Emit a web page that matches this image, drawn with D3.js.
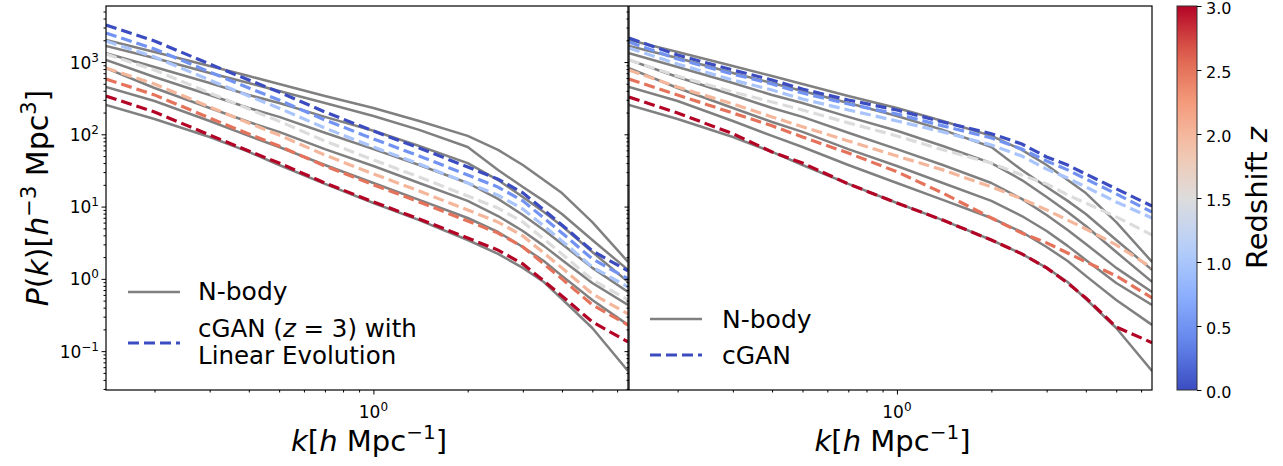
<!DOCTYPE html>
<html><head><meta charset="utf-8">
<script src="https://cdn.jsdelivr.net/npm/d3@7"></script>
<style>body{margin:0;background:#fff} text{font-family:"DejaVu Sans",sans-serif;fill:#000}</style>
</head><body><svg id="c" width="1283" height="466"></svg>
<script>
// ---- data ----
const kValues = [0.14,0.2,0.3,0.4,0.5,0.7,1.0,1.4,2.0,2.5,3.0,3.5,4.0,5.0,6.5];
const redshifts = [0,0.5,1,1.5,2,2.5,3];
// N-body P(k) per redshift
const nbodyZ00 = [2020,1380,880,640,496,339,231,153,95,61,37.6,23.3,15.4,6.1,1.72];
const nbodyZ05 = [1670,1140,704,512,397,271,179,115,66.7,32,18.7,12,7.9,3.45,1.33];
const nbodyZ10 = [1330,853,512,350,271,174,112,69,40,23.3,13.6,8.4,5.4,2.35,0.91];
const nbodyZ15 = [1070,620,350,231,174,105,62.5,37.6,21.2,12.8,7.65,4.75,3.04,1.42,0.66];
const nbodyZ20 = [826,437,231,148,108,62.5,36.4,21.2,12,7.4,4.6,2.86,1.83,0.877,0.436];
const nbodyZ25 = [451,289,153,95,66.7,37.6,21.2,12.4,6.95,4.45,2.76,1.77,1.1,0.51,0.231];
const nbodyZ30 = [254,163,91.8,57,37.6,20.6,11.2,6.5,3.45,2.22,1.42,0.906,0.527,0.209,0.0532];
// cGAN (z=3) with linear evolution (left panel)
const linZ00 = [3254,1958,939,564,384,204,111,64.7,35.3,24,15.5,8.98,5.57,2.44,1.29];
const linZ05 = [2522,1518,728,437,298,158,86.3,50.1,27.4,18.6,12,6.96,4.32,1.89,1.0];
const linZ10 = [1953,1175,563,338,230,122,66.8,38.8,21.2,14.4,9.27,5.39,3.34,1.46,0.772];
const linZ15 = [1292,777,373,224,152,80.8,44.2,25.7,14,9.53,6.13,3.56,2.21,0.968,0.511];
const linZ20 = [827,498,239,143,97.6,51.7,28.3,16.4,8.98,6.1,3.93,2.28,1.42,0.62,0.327];
const linZ25 = [583,351,168,101,68.8,36.5,20,11.6,6.33,4.3,2.77,1.61,1.0,0.437,0.23];
const linZ30 = [339,204,97.8,58.7,40,21.2,11.6,6.74,3.68,2.5,1.61,0.935,0.58,0.254,0.134];
// cGAN (right panel)
const ganZ00 = [2150,1250,775,563,423,298,217,148,102,73.4,48.6,37.6,28.2,17.6,10.2];
const ganZ05 = [1890,1100,682,496,373,263,191,131,89,62.5,42.7,32.2,24.1,15,8.4];
const ganZ10 = [1560,938,563,410,308,217,153,108,71,50,33,24.8,18.7,11.6,6.95];
const ganZ15 = [1070,640,385,280,217,144,95,61,40,27.3,20.6,14.5,11.2,7.2,4.05];
const ganZ20 = [775,451,263,174,127,81,50,32.2,18.7,12.8,9,6.5,4.9,2.95,1.42];
const ganZ25 = [582,350,197,131,91.8,55,30.3,15.4,6.95,4.3,3.15,2.28,1.72,1.1,0.545];
const ganZ30 = [328,197,102,57,40,20.6,11.2,6.5,3.45,2.22,1.42,0.877,0.545,0.216,0.131];
const colorbarTicks = [0,0.5,1,1.5,2,2.5,3];
const yMajorTicks = [0.1,1,10,100,1000];
const xMajorTicks = [1];

const nbody = [nbodyZ00,nbodyZ05,nbodyZ10,nbodyZ15,nbodyZ20,nbodyZ25,nbodyZ30];
const linEvo = [linZ00,linZ05,linZ10,linZ15,linZ20,linZ25,linZ30];
const gan = [ganZ00,ganZ05,ganZ10,ganZ15,ganZ20,ganZ25,ganZ30];

// ---- layout ----
const svg = d3.select("#c");
const yTop = 6, yBot = 390;
const panels = [{x0:106,x1:628,dash:linEvo},{x0:629,x1:1152,dash:gan}];
const y = d3.scaleLog().domain([0.029,5960]).range([yBot,yTop]);
const cmap = d3.piecewise(d3.interpolateRgb, ['#3b4cc0','#6485ec','#8db0fe','#b8d0f9','#dddcdc','#f4c5ad','#f49a7b','#de604d','#b40426']);
const color = z => cmap(z/3);
const GRAY = "#808080";

function supText(sel, parts) {
  parts.forEach(p => {
    const t = sel.append("tspan").text(p[0]);
    const o = p[1] || {};
    if (o.it) t.attr("font-style","italic");
    if (o.fs) t.attr("font-size", o.fs);
    if (o.dy) t.attr("dy", o.dy);
  });
}

const minorVals = [];
for (let e=-2;e<=3;e++) for (let m=2;m<=9;m++){const v=m*Math.pow(10,e); if(v>=0.029&&v<=5960) minorVals.push(v);}

panels.forEach((p, pi) => {
  const x = d3.scaleLog().domain([0.14,6.5]).range([p.x0,p.x1]);
  const g = svg.append("g");
  const clipId = "clip"+pi;
  svg.append("clipPath").attr("id",clipId).append("rect")
    .attr("x",p.x0).attr("y",yTop).attr("width",p.x1-p.x0).attr("height",yBot-yTop);
  const line = d3.line().x((d,i)=>x(kValues[i])).y(d=>y(d));
  const lines = g.append("g").attr("clip-path",`url(#${clipId})`);
  redshifts.forEach((z,i) => {
    lines.append("path").attr("d", line(nbody[i])).attr("fill","none")
      .attr("stroke",GRAY).attr("stroke-width",2.5).attr("stroke-linejoin","round");
  });
  redshifts.forEach((z,i) => {
    lines.append("path").attr("d", line(p.dash[i])).attr("fill","none")
      .attr("stroke",color(z)).attr("stroke-width",3.2).attr("stroke-dasharray","11,5");
  });
  g.append("rect").attr("x",p.x0).attr("y",yTop).attr("width",p.x1-p.x0).attr("height",yBot-yTop)
    .attr("fill","none").attr("stroke","#000").attr("stroke-width",1.2);
  const xMinor = [];
  for (let e=-1;e<=0;e++) for (let m=2;m<=9;m++){const v=m*Math.pow(10,e); if(v>=0.14&&v<=6.5) xMinor.push(v);}
  const xa = g.append("g").attr("transform",`translate(0,${yBot})`)
    .call(d3.axisBottom(x).tickValues(xMinor).tickSize(2.5).tickFormat(""));
  const xb = g.append("g").attr("transform",`translate(0,${yBot})`)
    .call(d3.axisBottom(x).tickValues(xMajorTicks).tickSize(4.5).tickFormat(""));
  [xa,xb].forEach(a=>{a.select(".domain").remove(); a.selectAll("line").attr("stroke","#000").attr("stroke-width",1);});
  xMajorTicks.forEach(v => {
    const t = g.append("text").attr("x",x(v)).attr("y",418).attr("text-anchor","middle").attr("font-size",17);
    supText(t, [["10"],["0",{fs:12,dy:-7}]]);
  });
  const xl = g.append("text").attr("x",(p.x0+p.x1)/2 + 2).attr("y",451).attr("text-anchor","middle").attr("font-size",29);
  supText(xl, [["k",{it:1}],["["],["h",{it:1}],[" Mpc"],["\u22121",{fs:20,dy:-12}],["]",{dy:12}]]);
  const ya = g.append("g").attr("transform",`translate(${p.x0},0)`)
    .call(d3.axisLeft(y).tickValues(minorVals).tickSize(2.5).tickFormat(""));
  const yb = g.append("g").attr("transform",`translate(${p.x0},0)`)
    .call(d3.axisLeft(y).tickValues(yMajorTicks).tickSize(4.5).tickFormat(""));
  [ya,yb].forEach(a=>{a.select(".domain").remove(); a.selectAll("line").attr("stroke","#000").attr("stroke-width",1);});
  if (pi===0) {
    yMajorTicks.forEach(v => {
      const e = Math.round(Math.log10(v));
      const t = g.append("text").attr("x",p.x0-7).attr("y",y(v)+6.5).attr("text-anchor","end").attr("font-size",17);
      supText(t, [["10"],[e<0?"\u22121":String(e),{fs:12,dy:-7}]]);
    });
  }
});

const yl = svg.append("text").attr("transform","translate(48,198) rotate(-90)").attr("text-anchor","middle").attr("font-size",30);
supText(yl, [["P",{it:1}],["("],["k",{it:1}],[")["],["h",{it:1}],["\u22123",{fs:21,dy:-12}],[" Mpc",{dy:12}],["3",{fs:21,dy:-12}],["]",{dy:12}]]);

function legendLine(x0,x1,yy,dashed){
  svg.append("line").attr("x1",x0).attr("x2",x1).attr("y1",yy).attr("y2",yy)
    .attr("stroke",dashed?color(0):GRAY).attr("stroke-width",dashed?3.2:2.5)
    .attr("stroke-dasharray",dashed?"11,5":null);
}
legendLine(128,180,292,false);
svg.append("text").attr("x",198).attr("y",300).attr("font-size",25).text("N-body");
legendLine(128,180,343,true);
const lt = svg.append("text").attr("x",198).attr("y",337).attr("font-size",24.5);
supText(lt,[["cGAN ("],["z",{it:1}],[" = 3) with"]]);
svg.append("text").attr("x",198).attr("y",364).attr("font-size",24.5).text("Linear Evolution");
legendLine(650,702,319,false);
svg.append("text").attr("x",722).attr("y",328).attr("font-size",25).text("N-body");
legendLine(650,702,355,true);
svg.append("text").attr("x",722).attr("y",364).attr("font-size",25).text("cGAN");

const cbX=1177, cbW=20;
const cy = d3.scaleLinear().domain([0,3]).range([yBot,yTop]);
const grad = svg.append("defs").append("linearGradient").attr("id","cb").attr("x1",0).attr("x2",0).attr("y1",1).attr("y2",0);
d3.range(0,1.0001,0.05).forEach(t=>grad.append("stop").attr("offset",t).attr("stop-color",cmap(t)));
svg.append("rect").attr("x",cbX).attr("y",yTop).attr("width",cbW).attr("height",yBot-yTop)
  .attr("fill","url(#cb)").attr("stroke","#333").attr("stroke-width",1);
const ca = svg.append("g").attr("transform",`translate(${cbX+cbW},0)`)
  .call(d3.axisRight(cy).tickValues(colorbarTicks).tickSize(4.5).tickFormat(d3.format(".1f")));
ca.select(".domain").remove();
ca.selectAll("line").attr("stroke","#000");
ca.selectAll("text").attr("font-size",16).attr("font-family","DejaVu Sans").attr("x",9).attr("dy","0.45em").attr("fill","#000");
const cl = svg.append("text").attr("transform","translate(1267,198) rotate(-90)").attr("text-anchor","middle").attr("font-size",29);
supText(cl,[["Redshift "],["z",{it:1}]]);
</script></body></html>
